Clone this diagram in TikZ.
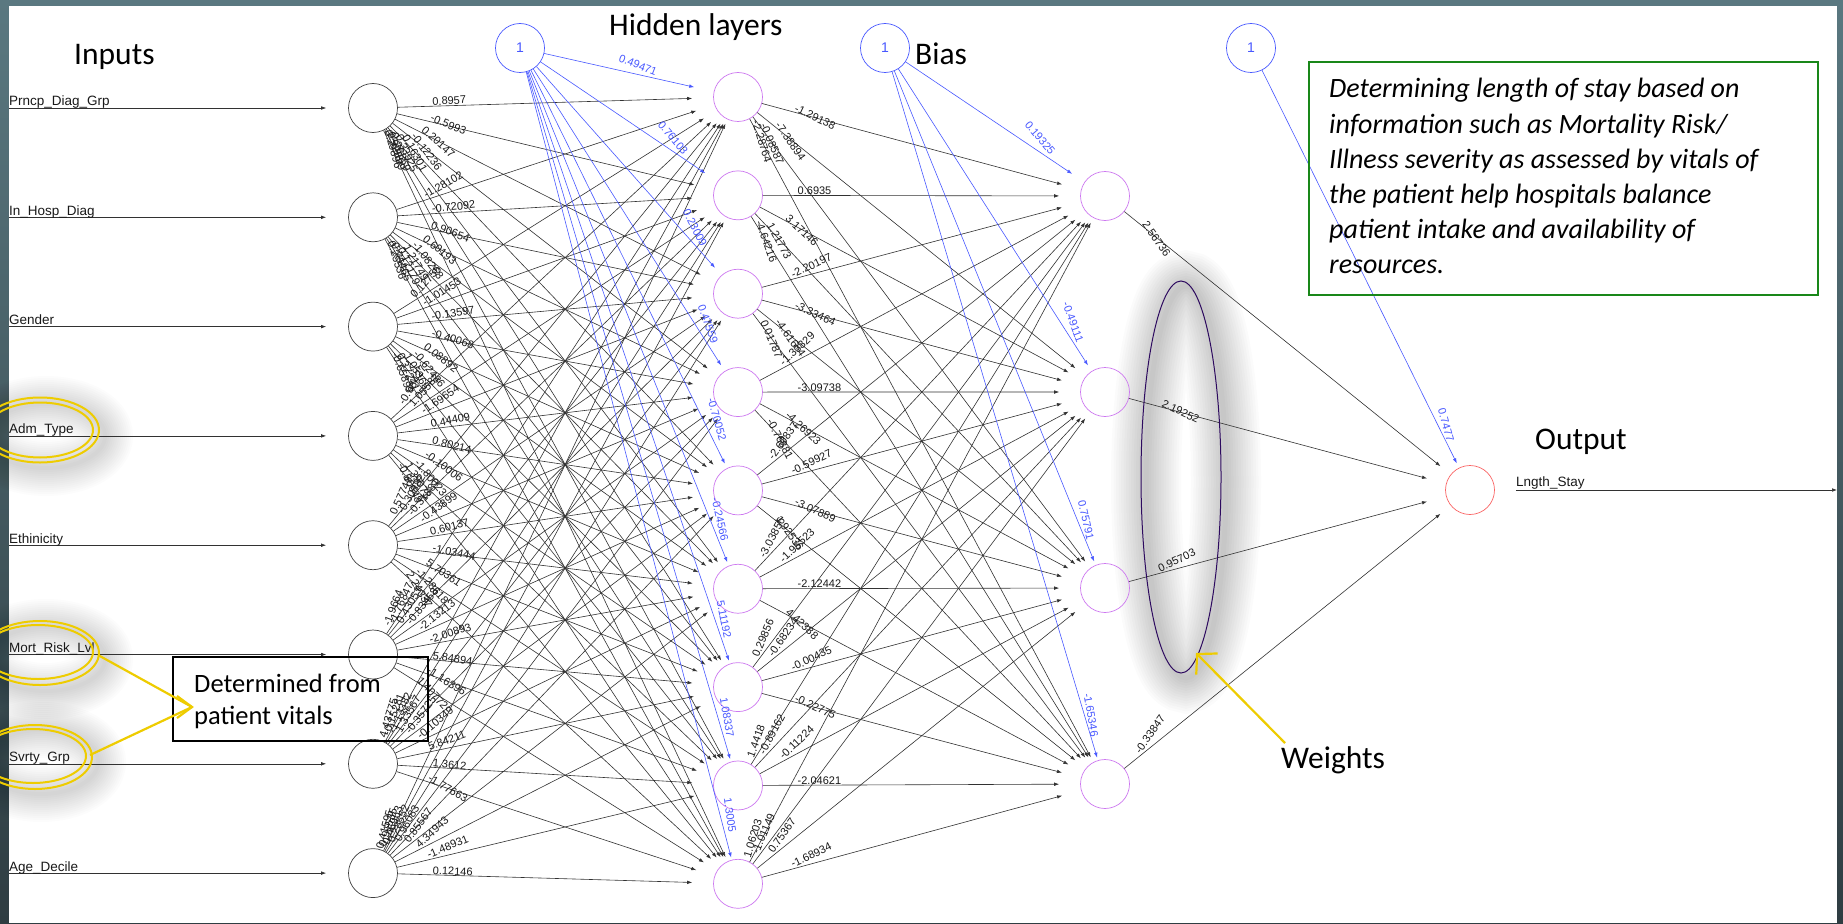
\documentclass[tikz,border=0pt]{standalone}
\usepackage{fontspec}
\setmainfont{Liberation Sans}
\newfontfamily\calfont{Carlito}
\usetikzlibrary{calc,arrows.meta}
\definecolor{stripA}{HTML}{5A7880}
\definecolor{stripB}{HTML}{2F3D42}
\definecolor{biasblue}{RGB}{72,88,255}
\definecolor{hidpurple}{RGB}{205,120,240}
\definecolor{outred}{RGB}{250,100,100}
\definecolor{gold}{RGB}{238,204,0}
\definecolor{boxgreen}{RGB}{25,135,25}
\definecolor{wpurple}{RGB}{45,10,95}
\definecolor{edgegray}{RGB}{50,50,50}

\newcommand{\netedge}[7]{%
  \pgfmathsetmacro\NNdx{(#5)-(#3)}%
  \pgfmathsetmacro\NNdy{(#6)-(#4)}%
  \pgfmathsetmacro\NNth{atan2(\NNdy,\NNdx)}%
  \pgfmathsetmacro\NNc{cos(\NNth)}%
  \pgfmathsetmacro\NNs{sin(\NNth)}%
  \pgfmathsetmacro\NNsh{1+20*\NNc*\NNc}%
  \pgfmathsetmacro\NNpx{59*\NNc*\NNc}%
  \pgfmathsetmacro\NNpy{59*\NNc*\NNs}%
  \pgfmathsetmacro\NNrot{-atan2(1.75*\NNdy,\NNdx)}%
  \draw[edge,shorten >=\NNsh pt] (#1) -- (#2);%
  \node[wl,rotate=\NNrot] at ($(#1)+(\NNpx,\NNpy)$) {#7};%
}
\newcommand{\biasedge}[9]{%
  \pgfmathsetmacro\NNdx{(#5)-(#3)}%
  \pgfmathsetmacro\NNdy{(#6)-(#4)}%
  \pgfmathsetmacro\NNth{atan2(\NNdy,\NNdx)}%
  \pgfmathsetmacro\NNc{cos(\NNth)}%
  \pgfmathsetmacro\NNsh{1+20*\NNc*\NNc}%
  \pgfmathsetmacro\NNrot{-atan2(1.75*\NNdy,\NNdx)}%
  \draw[bedge,shorten >=\NNsh pt] (#1) -- (#2);%
  \node[bl,rotate=\NNrot] at (#8,#9) {#7};%
}

\begin{document}
\begin{tikzpicture}[x=1pt,y=-1pt,
  inode/.style={circle,draw=black!75,line width=0.7pt,minimum size=49pt,inner sep=0pt},
  hnode/.style={circle,draw=hidpurple,line width=0.7pt,minimum size=49pt,inner sep=0pt},
  onode/.style={circle,draw=outred,line width=0.7pt,minimum size=49pt,inner sep=0pt},
  bnode/.style={circle,draw=biasblue,line width=0.7pt,minimum size=49pt,inner sep=0pt,text=biasblue,font=\fontsize{14}{14}\selectfont},
  edge/.style={draw=edgegray,line width=0.6pt,-{Latex[length=5pt,width=3.6pt]}},
  bedge/.style={draw=biasblue,line width=0.6pt,-{Latex[length=5pt,width=3.6pt]}},
  wl/.style={font=\fontsize{11}{11}\selectfont,inner sep=0.5pt,anchor=south west,text=black!90},
  bl/.style={font=\fontsize{11}{11}\selectfont,inner sep=0pt,anchor=center,text=biasblue},
  inlab/.style={font=\fontsize{13.5}{13.5}\selectfont,inner sep=0pt,anchor=base west,text=black!90},
  title/.style={font=\calfont\fontsize{31.5}{31.5}\selectfont,inner sep=0pt,anchor=base west},
  note/.style={font=\calfont\itshape\fontsize{28}{28}\selectfont,inner sep=0pt,anchor=base west},
  gold ring/.style={draw=gold,line width=2pt},
]
\useasboundingbox (0,0) rectangle (1843,923);
\shade[top color=stripA,bottom color=stripB] (0,0) rectangle (1843,923);
\fill[white] (9,6) rectangle (1837,923);

% soft shadows
\foreach \k in {1,...,14}{
  \pgfmathsetmacro\lwA{5*\k}
  \pgfmathsetmacro\lwB{4*\k}
  \draw[black,opacity=0.014,line width=\lwA pt] (1186,482) ellipse (40 and 196);
  \draw[black,opacity=0.013,line width=\lwB pt] (46,436) ellipse (59 and 32);
  \draw[black,opacity=0.013,line width=\lwB pt] (46,659) ellipse (59 and 32);
  \draw[black,opacity=0.013,line width=\lwB pt] (41,762) ellipse (57 and 32);
}

% nodes
\foreach \i in {0,...,7} \node[inode] (i\i) at (373,{108+109.3*\i}) {};
\foreach \j in {0,...,8} \node[hnode] (h\j) at (738,{97+98.35*\j}) {};
\foreach \k in {0,...,3} \node[hnode] (g\k) at (1105,{196+196*\k}) {};
\node[onode] (o) at (1470,490) {};
\node[bnode] (b1) at (520,48) {1};
\node[bnode] (b2) at (885,48) {1};
\node[bnode] (b3) at (1251,48) {1};

% input -> hidden 1
\foreach \s/\row in {
 0/{0.8957,-0.5993,0.20147,-0.12236,0.16301,0.33925,0.26859,0.92899,0.29896},
 1/{-1.28102,-0.72092,0.90654,0.60193,-1.08268,1.21749,-0.12179,0.74465,0.25536},
 2/{0.12755,-1.01453,-0.13597,-0.40068,0.08892,-0.62486,1.05365,0.37241,-0.65899},
 3/{-0.98427,1.05582,-1.69654,0.44409,0.80214,-0.10006,-1.80023,1.39073,-0.50648},
 4/{0.57749,-0.30882,-0.31881,-0.43899,0.60137,-1.03444,5.70361,-1.28618,2.24337},
 5/{-1.9664,-1.76847,0.43051,-0.83458,-2.13213,-2.00893,5.84894,-1.16396,1.40772},
 6/{4.43775,-0.15281,-1.13382,1.33567,-0.35725,-0.10349,5.84211,1.3612,-1.77663},
 7/{0.41595,0.91535,0.46963,0.28552,0.96083,0.85567,4.34943,-1.48931,0.12146}}{
  \foreach \w [count=\t from 0] in \row {
    \netedge{i\s}{h\t}{373}{108+109.3*\s}{738}{97+98.35*\t}{\w}
  }
}

% hidden 1 -> hidden 2
\foreach \s/\row in {
 0/{-1.29138,-7.38894,-0.08587,-2.28764},
 1/{0.6935,3.17146,1.21773,-4.64216},
 2/{-2.20197,-3.33464,-4.61664,0.01787},
 3/{-1.33329,-3.09738,-4.26923,-0.76881},
 4/{-2.60837,-0.59927,-3.07889,1.92536},
 5/{-3.03856,-1.95523,-2.12442,4.42388},
 6/{0.29856,-0.68234,-0.00435,-0.22775},
 7/{1.4418,-0.89162,-0.11224,-2.04621},
 8/{1.06203,-1.01149,0.75367,-1.68934}}{
  \foreach \w [count=\t from 0] in \row {
    \netedge{h\s}{g\t}{738}{97+98.35*\s}{1105}{196+196*\t}{\w}
  }
}

% hidden 2 -> output
\foreach \w [count=\s from 0] in {2.56736,2.19252,0.95703,-0.33847}{
  \netedge{g\s}{o}{1105}{196+196*\s}{1470}{490}{\w}
}

% bias edges
\foreach \t/\w/\lx/\ly in {0/0.49471/638/65, 1/0.76103/673/138, 2/0.23009/695/228,
  3/0.47559/708/324, 4/-0.70052/717/419, 5/-0.24566/720/519, 6/5.11192/724/619,
  7/1.08337/727/717, 8/1.3005/730/815}{
  \biasedge{b1}{h\t}{520}{48}{738}{97+98.35*\t}{\w}{\lx}{\ly}
}
\foreach \t/\w/\lx/\ly in {0/0.19325/1040/138, 1/-0.49111/1073/322, 2/0.75791/1086/520, 3/-1.65346/1091/715}{
  \biasedge{b2}{g\t}{885}{48}{1105}{196+196*\t}{\w}{\lx}{\ly}
}
\biasedge{b3}{o}{1251}{48}{1470}{490}{0.7477}{1446}{425}

% input arrows and labels
\foreach \i/\name in {0/Prncp\_Diag\_Grp,1/In\_Hosp\_Diag,2/Gender,3/Adm\_Type,4/Ethinicity,5/Mort\_Risk\_Lvl,6/Svrty\_Grp,7/Age\_Decile}{
  \coordinate (is\i) at (9,{108+109.3*\i});
  \draw[edge,shorten >=22pt] (is\i) -- (i\i);
  \node[inlab] at (9,{106+109.3*\i}) {\name};
}
% output arrow
\coordinate (oe) at (1837,490);
\draw[edge,shorten <=21pt] (o) -- (oe);
\node[inlab] at (1516,486) {Lngth\_Stay};

% titles
\node[title] at (74,65) {Inputs};
\node[title] at (609,36) {Hidden layers};
\node[title] at (915,65) {Bias};
\node[title] at (1535,449) {Output};
\node[title] at (1281,768) {Weights};

% weights ellipse
\draw[wpurple,line width=1pt] (1181,477) ellipse (40 and 196);
\coordinate (wtail) at (1285,743);
\coordinate (whead) at (1196,653);
\draw[gold,line width=2.2pt,-{Straight Barb[length=14pt,width=30pt]}] (wtail) -- (whead);

% yellow rings
\draw[gold ring] (40,430) ellipse (59 and 32.5);
\draw[gold ring] (40,430) ellipse (53 and 27.5);
\draw[gold ring] (40,653) ellipse (59 and 32);
\draw[gold ring] (38,652) ellipse (55 and 27);
\draw[gold ring] (35,757) ellipse (57 and 32);
\draw[gold ring] (33,756) ellipse (53 and 27);

% determined box
\draw[black,line width=1.6pt] (173,657) rectangle (428,741);
\node[font=\calfont\fontsize{26.5}{26.5}\selectfont,inner sep=0pt,anchor=base west] (det1) at (194,692) {Determined from};
\node[font=\calfont\fontsize{26.5}{26.5}\selectfont,inner sep=0pt,anchor=base west] (det2) at (194,724) {patient vitals};
\coordinate (mortR) at (98,655);
\coordinate (svrR) at (90,755);
\coordinate (detTip) at (192,707);
\draw[gold,line width=2.2pt] (mortR) -- (detTip);
\draw[gold,line width=2.2pt] (svrR) -- (detTip);
\draw[gold,line width=2.2pt,line join=miter] ($(detTip)+(-15,-11)$) -- (detTip) -- ($(detTip)+(-15,11)$);

% green note box
\draw[boxgreen,line width=2.2pt] (1309,62) rectangle (1818,295);
\node[note] at (1329,98) {Determining length of stay based on};
\node[note] at (1329,133) {information such as Mortality Risk/};
\node[note] at (1329,168) {Illness severity as assessed by vitals of};
\node[note] at (1329,203) {the patient help hospitals balance};
\node[note] at (1329,238) {patient intake and availability of};
\node[note] at (1329,273) {resources.};
\end{tikzpicture}
\end{document}
